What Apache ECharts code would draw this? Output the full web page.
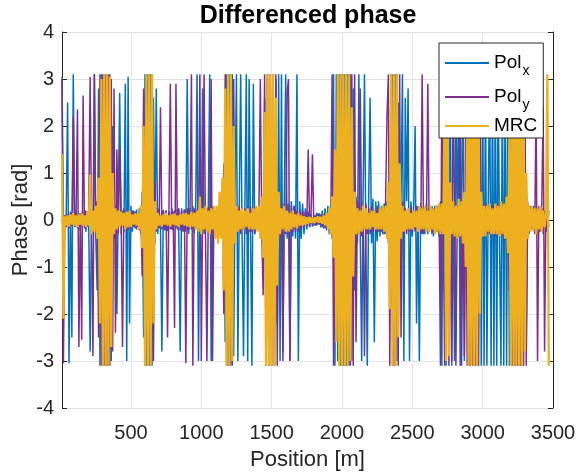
<!DOCTYPE html>
<html>
<head>
<meta charset="utf-8">
<title>Differenced phase</title>
<script src="https://cdn.jsdelivr.net/npm/echarts@6.0.0/dist/echarts.min.js"></script>
<style>
  html, body { margin: 0; padding: 0; background: #fff; }
  #phaseChart { width: 577px; height: 474px; }
</style>
</head>
<body>
<div id="phaseChart"></div>
<script>
// position along the fibre [m], one sample every 10 m
const positions = [
  10, 20, 30, 40, 50, 60, 70, 80, 90, 100, 110, 120, 130, 140, 150, 160, 170, 180, 190, 200,
  210, 220, 230, 240, 250, 260, 270, 280, 290, 300, 310, 320, 330, 340, 350, 360, 370, 380, 390, 400,
  410, 420, 430, 440, 450, 460, 470, 480, 490, 500, 510, 520, 530, 540, 550, 560, 570, 580, 590, 600,
  610, 620, 630, 640, 650, 660, 670, 680, 690, 700, 710, 720, 730, 740, 750, 760, 770, 780, 790, 800,
  810, 820, 830, 840, 850, 860, 870, 880, 890, 900, 910, 920, 930, 940, 950, 960, 970, 980, 990, 1000,
  1010, 1020, 1030, 1040, 1050, 1060, 1070, 1080, 1090, 1100, 1110, 1120, 1130, 1140, 1150, 1160, 1170, 1180, 1190, 1200,
  1210, 1220, 1230, 1240, 1250, 1260, 1270, 1280, 1290, 1300, 1310, 1320, 1330, 1340, 1350, 1360, 1370, 1380, 1390, 1400,
  1410, 1420, 1430, 1440, 1450, 1460, 1470, 1480, 1490, 1500, 1510, 1520, 1530, 1540, 1550, 1560, 1570, 1580, 1590, 1600,
  1610, 1620, 1630, 1640, 1650, 1660, 1670, 1680, 1690, 1700, 1710, 1720, 1730, 1740, 1750, 1760, 1770, 1780, 1790, 1800,
  1810, 1820, 1830, 1840, 1850, 1860, 1870, 1880, 1890, 1900, 1910, 1920, 1930, 1940, 1950, 1960, 1970, 1980, 1990, 2000,
  2010, 2020, 2030, 2040, 2050, 2060, 2070, 2080, 2090, 2100, 2110, 2120, 2130, 2140, 2150, 2160, 2170, 2180, 2190, 2200,
  2210, 2220, 2230, 2240, 2250, 2260, 2270, 2280, 2290, 2300, 2310, 2320, 2330, 2340, 2350, 2360, 2370, 2380, 2390, 2400,
  2410, 2420, 2430, 2440, 2450, 2460, 2470, 2480, 2490, 2500, 2510, 2520, 2530, 2540, 2550, 2560, 2570, 2580, 2590, 2600,
  2610, 2620, 2630, 2640, 2650, 2660, 2670, 2680, 2690, 2700, 2710, 2720, 2730, 2740, 2750, 2760, 2770, 2780, 2790, 2800,
  2810, 2820, 2830, 2840, 2850, 2860, 2870, 2880, 2890, 2900, 2910, 2920, 2930, 2940, 2950, 2960, 2970, 2980, 2990, 3000,
  3010, 3020, 3030, 3040, 3050, 3060, 3070, 3080, 3090, 3100, 3110, 3120, 3130, 3140, 3150, 3160, 3170, 3180, 3190, 3200,
  3210, 3220, 3230, 3240, 3250, 3260, 3270, 3280, 3290, 3300, 3310, 3320, 3330, 3340, 3350, 3360, 3370, 3380, 3390, 3400,
  3410, 3420, 3430, 3440, 3450, 3460, 3470
];

// differenced phase [rad]
const polX = [
  3.05, 0.15, -0.2, 0.12, 2.5, -3.05, 0.18, -2.5, 3.1, -0.15,
  0.2, -0.18, 0.14, -0.22, 0.16, -0.12, 0.2, -0.25, 0.18, -0.14,
  -2.8, 0.22, -0.3, 3.1, -0.35, -1.5, 2.8, -3.1, 3.1, -3.1,
  3.1, -3.1, 3.1, -3.1, 3.1, -3.0, 2.0, -0.4, 0.3, -2.0,
  0.25, 2.7, -0.3, 0.2, -0.25, 2.9, -3.0, 3.05, -2.2, 0.3,
  -0.25, 0.2, -0.18, 0.22, -0.15, 0.25, -0.3, 0.6, -2.5, 3.1,
  -3.1, 3.1, -3.1, 3.1, -3.1, 2.6, -0.5, 2.8, -0.3, 0.25,
  -0.2, -2.8, 0.22, -0.18, 0.2, -0.24, 0.18, -0.2, 0.26, -0.22,
  0.2, -0.18, 0.24, -0.3, -2.8, 0.25, -0.2, 0.22, -0.25, 3.0,
  -0.3, 0.25, -0.2, 0.3, -0.28, 0.22, 3.1, -3.0, 0.3, -0.25,
  2.8, -0.3, 0.25, -0.2, 0.3, 3.1, -3.0, 0.28, -0.25, 0.2,
  -0.22, 0.25, -0.3, 0.35, -0.4, 1.2, -2.6, 3.1, -3.1, 3.1,
  -3.1, 3.1, -2.9, 0.6, 3.1, -3.0, 0.4, 3.1, -0.35, -2.9,
  0.3, 3.1, -3.0, 3.0, -0.3, -3.1, 2.9, -0.3, 0.25, -0.2,
  0.25, -0.3, 0.35, -1.0, 2.6, -3.1, 3.1, -3.1, 3.1, -3.1,
  3.1, -3.1, 3.0, -2.2, 3.1, -3.0, 3.1, -2.8, 0.4, 3.1,
  -0.4, 0.35, -3.0, 0.4, -0.35, 0.3, -0.4, 3.1, -3.0, 0.4,
  -0.4, 0.35, -0.3, 0.25, -0.2, 0.18, -0.15, 0.12, -0.14, 0.1,
  -0.12, 0.15, -0.1, 0.14, -0.16, 0.2, -0.18, 0.25, -0.22, 0.3,
  -0.3, 0.35, -0.4, 3.1, -3.1, 3.1, -3.0, 3.1, -3.1, 3.1,
  -3.1, 3.1, -3.1, 3.1, -3.1, 3.1, -3.0, 2.8, -1.5, 0.5,
  -0.5, 3.1, -0.4, -3.0, 0.5, 3.1, -0.45, -3.1, 0.5, 2.6,
  -0.5, 0.45, -2.6, 0.4, -0.45, 0.4, -0.35, 0.3, -0.3, 0.35,
  -0.3, 0.4, -0.5, 0.8, -1.8, 3.1, -3.1, 3.1, -3.0, 2.5,
  -1.0, 0.5, 3.1, -3.0, 2.6, 0.4, 2.8, -3.0, 0.4, -0.35,
  0.3, 2.0, -2.2, 0.3, -3.0, 0.35, -0.3, 0.25, -0.3, 0.35,
  -0.3, 0.25, -0.2, 0.3, -0.35, 0.3, -0.25, 0.3, -0.35, 0.4,
  -3.1, 3.1, -0.4, -3.1, 3.0, -0.4, 3.1, -3.1, 0.4, -3.0,
  3.1, -0.4, 2.8, -3.1, 0.4, 3.1, -3.0, 0.5, -1.8, 3.1,
  -3.1, 3.1, -3.1, 3.1, -3.1, 3.1, -3.1, 2.7, -3.1, 3.1,
  -3.1, 3.1, -3.1, 0.5, 3.1, -3.1, 3.1, -3.1, 3.1, -3.1,
  3.1, -0.6, -3.1, 3.1, -3.1, 3.1, -3.1, 3.1, -3.1, 3.1,
  -3.1, 3.1, -3.1, 3.1, -3.1, 3.1, -3.1, 3.1, -3.1, 3.1,
  -2.6, 0.4, -0.3, 0.25, -0.2, 0.3, -0.25, 0.2, -0.3, 0.25,
  -0.2, 0.25, -0.3, 0.2, -0.25, 0.2, -0.15
];

const polY = [
  3.0, -3.05, 0.1, -0.15, 0.12, -0.18, 0.15, -0.12, 2.2, -0.15,
  0.12, 2.35, -2.7, 0.15, -2.55, 2.65, -0.18, 0.2, -0.15, 0.18,
  3.05, -0.2, -2.9, 3.1, -0.25, 0.4, -2.5, 3.1, -3.1, 3.1,
  -3.1, 3.1, -3.1, 3.1, -3.1, 3.0, -2.8, 2.8, -2.4, 1.5,
  -0.3, 1.5, 0.2, -2.7, 0.25, -0.2, 0.18, -0.22, 0.2, -0.18,
  0.2, -0.15, 0.18, -0.2, 0.15, -0.22, 0.3, -1.2, 2.8, -3.1,
  3.1, -3.1, 3.1, -3.1, 3.1, -3.0, 0.8, -0.25, 0.2, -0.18,
  2.4, -0.2, 0.18, -0.22, 0.2, -2.5, 0.22, 2.9, -0.2, 0.18,
  -2.3, 2.9, -0.2, 0.25, -0.22, 0.2, -0.25, 0.22, -3.05, 0.25,
  -0.22, 0.25, 3.1, -3.1, 0.25, -0.2, 0.22, -0.25, 3.1, -3.0,
  0.3, 3.1, -0.3, -3.0, 0.25, -0.2, 3.0, -3.0, 0.25, -0.22,
  0.2, -0.25, 0.3, -0.35, 0.5, -2.0, 3.1, -3.1, 3.1, -3.1,
  3.1, -3.1, 3.0, -0.5, 0.3, -0.25, 0.3, -0.3, 0.25, -0.2,
  0.25, -0.3, 0.2, -0.25, 0.3, -0.25, 0.2, -0.3, 0.25, -0.2,
  0.3, 3.0, -0.3, -1.6, 3.1, -3.1, 3.1, -3.1, 3.1, -3.1,
  3.1, -3.1, 3.1, -3.1, 0.4, -0.35, 0.3, -3.0, 0.35, -0.3,
  2.7, 3.0, -3.0, 0.3, -0.25, 0.3, -0.25, 0.2, -0.25, 0.2,
  -0.18, 0.2, -0.15, 0.18, -0.12, 1.5, -0.15, 0.12, 1.4, -0.12,
  0.1, -0.12, 0.14, -0.1, 0.12, -0.15, 0.12, -0.18, 0.15, -0.2,
  0.2, -0.25, 3.1, -3.1, 0.3, -2.5, 3.1, -3.1, 3.1, -3.1,
  3.1, -3.1, 3.1, -3.1, 3.1, -3.1, 3.1, -3.1, 3.1, -2.6,
  0.4, -0.3, 2.8, -0.35, 0.3, -2.9, 0.35, -0.3, 0.25, -0.3,
  0.3, -0.25, 0.2, -0.25, 0.3, -0.25, 0.2, -0.25, 0.3, -0.3,
  0.4, 2.2, 3.1, -3.1, 3.1, -3.1, 3.1, -3.1, 3.1, -3.1,
  3.1, -2.5, 0.4, -0.3, 0.25, -0.3, 0.2, -0.25, 0.3, -0.25,
  0.2, -0.25, 0.3, -0.2, 0.25, -0.3, 3.1, -0.3, 0.25, -0.2,
  2.9, -0.25, 0.2, -0.3, 0.25, -0.2, 0.3, -0.25, 0.3, -3.1,
  3.1, -0.3, -3.1, 0.3, 3.1, -3.1, 0.35, -3.0, 3.1, 0.3,
  -3.1, 0.3, -0.35, 3.1, -3.1, 0.3, -2.9, 3.1, -3.1, 3.1,
  -3.1, 3.1, -3.1, 3.1, -3.1, 3.1, -3.1, 3.0, -0.4, 0.3,
  -0.3, 0.35, -0.3, 0.25, -0.3, 0.3, -0.25, 0.3, -0.35, 0.3,
  -0.3, 0.35, -0.3, 0.3, -0.35, 0.3, -0.4, 0.4, -1.5, 3.1,
  -3.1, 3.1, -3.1, 3.1, -3.1, 3.1, -3.1, 3.1, -3.1, 3.1,
  -3.1, 0.3, -0.25, 0.3, -0.2, 0.25, -0.3, 2.5, -3.0, 0.3,
  -0.25, 0.3, 2.4, -2.8, 0.3, -0.25, 0.2
];

const mrc = [
  1.4, -2.1, 0.08, -0.12, 0.1, -0.14, 0.12, -0.1, 0.15, -0.12,
  0.1, -0.15, 0.12, -0.1, 0.14, -0.12, 0.1, -0.15, 0.18, -0.12,
  0.97, -0.3, 0.2, -0.25, 0.3, -0.4, 0.9, -2.2, 3.0, -3.1,
  3.1, -3.1, 3.1, -3.1, 3.05, -2.7, 1.0, -0.3, 0.25, -0.2,
  0.2, -0.15, 0.18, -0.12, 0.15, -0.2, 0.18, -0.15, 0.2, -0.15,
  0.12, -0.1, 0.14, -0.12, 0.15, -0.2, 0.3, -0.6, 2.0, -3.1,
  3.1, -3.1, 3.1, -3.1, 3.1, -2.2, 0.4, -0.2, 0.15, -0.12,
  0.1, -0.14, 0.12, -0.1, 0.15, -0.12, 0.1, -0.14, 0.12, -0.1,
  0.14, -0.12, 0.1, -0.15, 0.12, -0.1, 0.14, -0.12, 0.15, -0.14,
  0.12, -0.15, 0.18, -0.14, 0.15, -0.2, 0.2, -0.25, 0.5, -0.3,
  0.25, -0.2, 0.3, -0.25, 0.2, -0.3, 0.25, -0.2, 0.3, -0.4,
  0.3, -0.5, 0.6, -0.4, 0.9, -1.5, 2.8, -3.1, 3.1, -3.1,
  3.1, -3.0, 2.0, -0.5, 0.3, -0.25, 0.2, -0.2, 0.25, -0.2,
  0.2, -0.15, 0.25, -0.2, 0.15, -0.2, 0.25, -0.2, 0.3, -0.25,
  0.3, -0.4, 0.5, -0.8, 2.3, -3.1, 3.1, -3.1, 3.1, -3.1,
  3.1, -3.1, 2.6, -1.4, 0.6, -0.3, 0.25, -0.2, 0.3, -0.25,
  0.2, -0.25, 0.15, -0.2, 0.2, -0.15, 0.12, -0.18, 0.15, -0.12,
  0.1, -0.12, 0.08, -0.1, 0.06, -0.08, 0.07, -0.06, 0.05, -0.07,
  0.06, -0.05, 0.08, -0.06, 0.07, -0.08, 0.1, -0.12, 0.15, -0.2,
  0.25, -0.3, 0.5, -0.8, 1.5, -2.6, 3.1, -3.1, 3.1, -3.1,
  3.1, -3.1, 3.1, -3.1, 3.1, -3.0, 2.4, -1.2, 0.6, -0.3,
  0.25, -0.3, 0.2, -0.25, 0.3, -0.2, 0.25, -0.2, 0.15, -0.2,
  0.2, -0.15, 0.2, -0.2, 0.15, -0.2, 0.25, -0.2, 0.3, -0.25,
  0.3, -0.4, 0.8, -1.9, 3.1, -3.1, 3.1, -3.1, 3.1, -2.5,
  1.2, -0.4, 0.3, -0.25, 0.2, -0.2, 0.25, -0.2, 0.15, -0.2,
  0.2, -0.15, 0.2, -0.25, 0.3, -0.2, 0.25, -0.2, 0.3, -0.25,
  0.2, -0.25, 0.3, -0.2, 0.25, -0.3, 0.3, -0.25, 0.35, -0.3,
  0.35, -0.3, 2.6, -3.0, 3.1, -2.9, 0.8, -0.3, 0.4, -0.35,
  0.3, -0.4, 0.45, -0.35, 0.4, -0.5, 0.6, -1.0, 2.2, -3.1,
  3.1, -3.1, 3.1, -3.1, 3.1, -3.1, 3.0, -2.0, 0.6, -0.35,
  0.3, -0.35, 0.3, -0.25, 0.35, -0.3, 0.25, -0.3, 0.35, -0.3,
  0.3, -0.35, 0.4, -0.3, 0.35, -0.4, 0.5, -0.7, 1.8, -3.1,
  3.1, -3.1, 3.1, -3.1, 3.1, -3.1, 3.1, -3.1, 3.1, -2.8,
  1.0, -0.4, 0.3, -0.25, 0.3, -0.2, 0.25, -0.3, 0.25, -0.2,
  0.3, -0.25, 0.2, -0.15, 0.1, 3.1, -3.1
];

const xTicks = [500, 1000, 1500, 2000, 2500, 3000, 3500];
const seriesNames = ['Pol_x', 'Pol_y', 'MRC'];

const fontFamily = '"Liberation Sans", Arial, sans-serif';
const axisColor = '#262626';

function pairUp(values) {
  return positions.map((p, i) => [p, values[i]]);
}

const myChart = echarts.init(document.getElementById('phaseChart'), null, { renderer: 'canvas' });

// mirrored axes on top/right so the frame looks like a matlab box
const boxAxisX = {
  type: 'value', min: 10, max: 3500,
  axisLine: { show: true, lineStyle: { color: axisColor, width: 1 } },
  axisTick: { show: true, inside: true, length: 5, customValues: xTicks, lineStyle: { color: axisColor } },
  axisLabel: { show: false, customValues: xTicks },
  splitLine: { show: false },
};
const boxAxisY = {
  type: 'value', min: -4, max: 4, interval: 1,
  axisLine: { show: true, lineStyle: { color: axisColor, width: 1 } },
  axisTick: { show: true, inside: true, length: 5, lineStyle: { color: axisColor } },
  axisLabel: { show: false },
  splitLine: { show: false },
};

myChart.setOption({
  animation: false,
  backgroundColor: '#fff',
  textStyle: { fontFamily: fontFamily },
  title: {
    text: 'Differenced phase',
    left: 303,
    top: -1,
    textAlign: 'center',
    textStyle: { fontSize: 25, fontWeight: 'bold', color: '#000', fontFamily: fontFamily },
  },
  legend: {
    data: seriesNames,
    orient: 'vertical',
    left: 439,
    top: 43,
    padding: [5, 6, 3, 6],
    itemGap: 4,
    itemWidth: 44,
    itemHeight: 2,
    icon: 'rect',
    backgroundColor: '#fff',
    borderColor: axisColor,
    borderWidth: 1,
    borderRadius: 0,
    formatter: function (name) {
      if (name === 'Pol_x') return '{p|Pol}{s|x}';
      if (name === 'Pol_y') return '{p|Pol}{s|y}';
      return '{p|' + name + '}';
    },
    textStyle: {
      color: '#000',
      rich: {
        p: { fontSize: 19, lineHeight: 20, verticalAlign: 'top', fontFamily: fontFamily, color: '#000' },
        s: { fontSize: 14, lineHeight: 14, padding: [16, 0, 0, 1], fontFamily: fontFamily, color: '#000' },
      },
    },
  },
  grid: {
    left: 62,
    right: 24,
    top: 32,
    bottom: 66,
    containLabel: false,
    outerBoundsMode: 'none',
  },
  xAxis: [
    {
      type: 'value',
      min: 10,
      max: 3500,
      name: 'Position [m]',
      nameLocation: 'middle',
      nameGap: 41,
      nameTextStyle: { fontSize: 22, color: axisColor, fontFamily: fontFamily },
      axisLine: { show: true, lineStyle: { color: axisColor, width: 1 } },
      axisTick: { show: true, inside: true, length: 5, customValues: xTicks, lineStyle: { color: axisColor } },
      axisLabel: {
        customValues: xTicks,
        fontSize: 20,
        color: axisColor,
        margin: 15,
        fontFamily: fontFamily,
        formatter: function (v) { return String(v); },
      },
      splitLine: { show: true, lineStyle: { color: '#e3e3e3', width: 1 } },
    },
    Object.assign({ position: 'top' }, boxAxisX),
  ],
  yAxis: [
    {
      type: 'value',
      min: -4,
      max: 4,
      interval: 1,
      name: 'Phase [rad]',
      nameLocation: 'middle',
      nameGap: 30,
      nameMoveOverlap: false,
      nameTextStyle: { fontSize: 22, color: axisColor, fontFamily: fontFamily },
      axisLine: { show: true, lineStyle: { color: axisColor, width: 1 } },
      axisTick: { show: true, inside: true, length: 5, lineStyle: { color: axisColor } },
      axisLabel: { fontSize: 20, color: axisColor, margin: 8, fontFamily: fontFamily },
      splitLine: { show: true, lineStyle: { color: '#e3e3e3', width: 1 } },
    },
    Object.assign({ position: 'right' }, boxAxisY),
  ],
  series: [
    {
      name: 'Pol_x',
      type: 'line',
      symbol: 'none',
      lineStyle: { color: '#0072BD', width: 1.5 },
      itemStyle: { color: '#0072BD' },
      data: pairUp(polX),
    },
    {
      name: 'Pol_y',
      type: 'line',
      symbol: 'none',
      lineStyle: { color: '#7E2F8E', width: 1.5 },
      itemStyle: { color: '#7E2F8E' },
      data: pairUp(polY),
    },
    {
      name: 'MRC',
      type: 'line',
      symbol: 'none',
      lineStyle: { color: '#EDB120', width: 2.3 },
      itemStyle: { color: '#EDB120' },
      data: pairUp(mrc),
    },
  ],
});
</script>
</body>
</html>
